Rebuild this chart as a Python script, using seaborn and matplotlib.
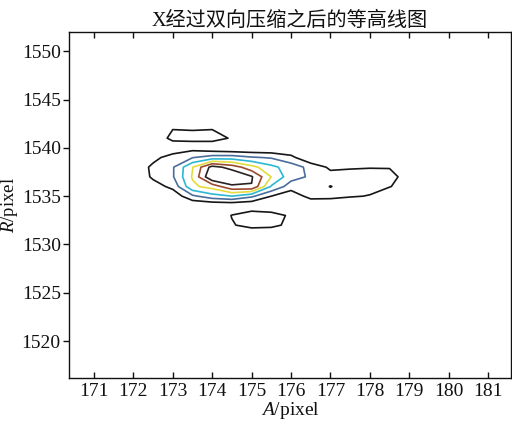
import numpy as np
import matplotlib
matplotlib.use("Agg")
import matplotlib.pyplot as plt
import seaborn as sns

# ---- data ----
x_grid = [172.0, 172.5, 173.0, 173.5, 174.0, 174.5, 175.0, 175.5,
          176.0, 176.5, 177.0, 177.5, 178.0, 178.5, 179.0]
y_grid = [1531, 1532, 1533, 1534, 1535, 1536, 1537, 1538,
          1539, 1540, 1541, 1542, 1543]

row_1531 = [0, 0, 0, 0, 0, 0, 0, 0, 0, 0, 0, 0, 0, 0, 0]
row_1532 = [0, 0, 0, 0, 0, 0.9, 1.4, 1.3, 0.7, 0, 0, 0, 0, 0, 0]
row_1533 = [0, 0, 0, 0, 0, 1.05, 1.8, 1.5, 0.8, 0, 0, 0, 0, 0, 0]
row_1534 = [0, 0, 0, 0, 0, 0, 0, 0, 0, 0, 0, 0, 0, 0, 0]
row_1535 = [0, 0, 0.3, 1.8, 2.6, 3.0, 2.2, 1.0, 0.3, 1.4, 1.35, 1.1, 0.95, 0.3, 0]
row_1536 = [0, 0.5, 1.3, 3.8, 4.4, 5.8, 5.95, 2.9, 1.5, 1.5, 0.97, 1.4, 1.3, 1.05, 0.5]
row_1537 = [0, 1.2, 1.9, 4.1, 7.0, 7.0, 6.1, 3.98, 2.4, 1.85, 1.4, 1.4, 1.4, 1.3, 0.6]
row_1538 = [0, 1.3, 1.9, 3.95, 6.4, 5.6, 4.35, 3.28, 2.5, 1.7, 0.8, 0.9, 0.95, 0.95, 0.5]
row_1539 = [0, 0.6, 1.6, 1.95, 2.45, 2.5, 2.1, 1.9, 1.3, 0, 0, 0, 0, 0, 0]
row_1540 = [0, 0, 0, 0.6, 0.2, 0, 0, 0, 0, 0, 0, 0, 0, 0, 0]
row_1541 = [0, 0, 1.4, 1.2, 1.4, 0.9, 0, 0, 0, 0, 0, 0, 0, 0, 0]
row_1542 = [0, 0, 0.95, 0.95, 0.95, 0, 0, 0, 0, 0, 0, 0, 0, 0, 0]
row_1543 = [0, 0, 0, 0, 0, 0, 0, 0, 0, 0, 0, 0, 0, 0, 0]

levels = [1, 2, 3, 4, 5, 6]
level_colors = ["#161616", "#4a6d9a", "#2cb8d2", "#e4dc3c", "#9c4a2e", "#2a2222"]

x_ticks = [171, 172, 173, 174, 175, 176, 177, 178, 179, 180, 181]
y_ticks = [1520, 1525, 1530, 1535, 1540, 1545, 1550]

title_text = "X经过双向压缩之后的等高线图"
x_label = "$A$/pixel"
y_label = "$R$/pixel"

# ---- plot ----
sns.set_theme(style="white")
plt.rcParams["font.family"] = ["Liberation Serif", "Noto Sans CJK SC"]
plt.rcParams["mathtext.fontset"] = "custom"
plt.rcParams["mathtext.it"] = "Liberation Serif:italic"
plt.rcParams["mathtext.rm"] = "Liberation Serif"

Z = np.array([row_1531, row_1532, row_1533, row_1534, row_1535, row_1536, row_1537,
              row_1538, row_1539, row_1540, row_1541, row_1542, row_1543])

fig = plt.figure(figsize=(5.12, 4.25), dpi=100)
ax = fig.add_axes([0.135, 0.111, 0.863, 0.814])

ax.contour(np.array(x_grid), np.array(y_grid), Z, levels=levels,
           colors=level_colors, linewidths=1.2)

ax.set_xlim(170.37, 181.58)
ax.set_ylim(1516.2, 1552.0)
ax.set_xticks(x_ticks)
ax.set_yticks(y_ticks)
ax.tick_params(axis="x", direction="in", top=True, bottom=True, length=4,
               width=1, labelsize=14, pad=4, colors="#111111")
ax.tick_params(axis="y", direction="out", left=True, right=False, length=4,
               width=1, labelsize=14, pad=2, colors="#111111")
for s in ax.spines.values():
    s.set_color("#111111")
    s.set_linewidth(1.0)

ax.set_title(title_text, fontsize=14.5, pad=4, color="#111111")
ax.set_xlabel(x_label, fontsize=14, labelpad=0, color="#111111")
ax.set_ylabel(y_label, fontsize=13.5, color="#111111")
ax.yaxis.set_label_coords(-0.112, 0.5)

fig.savefig("out.png", dpi=100)
